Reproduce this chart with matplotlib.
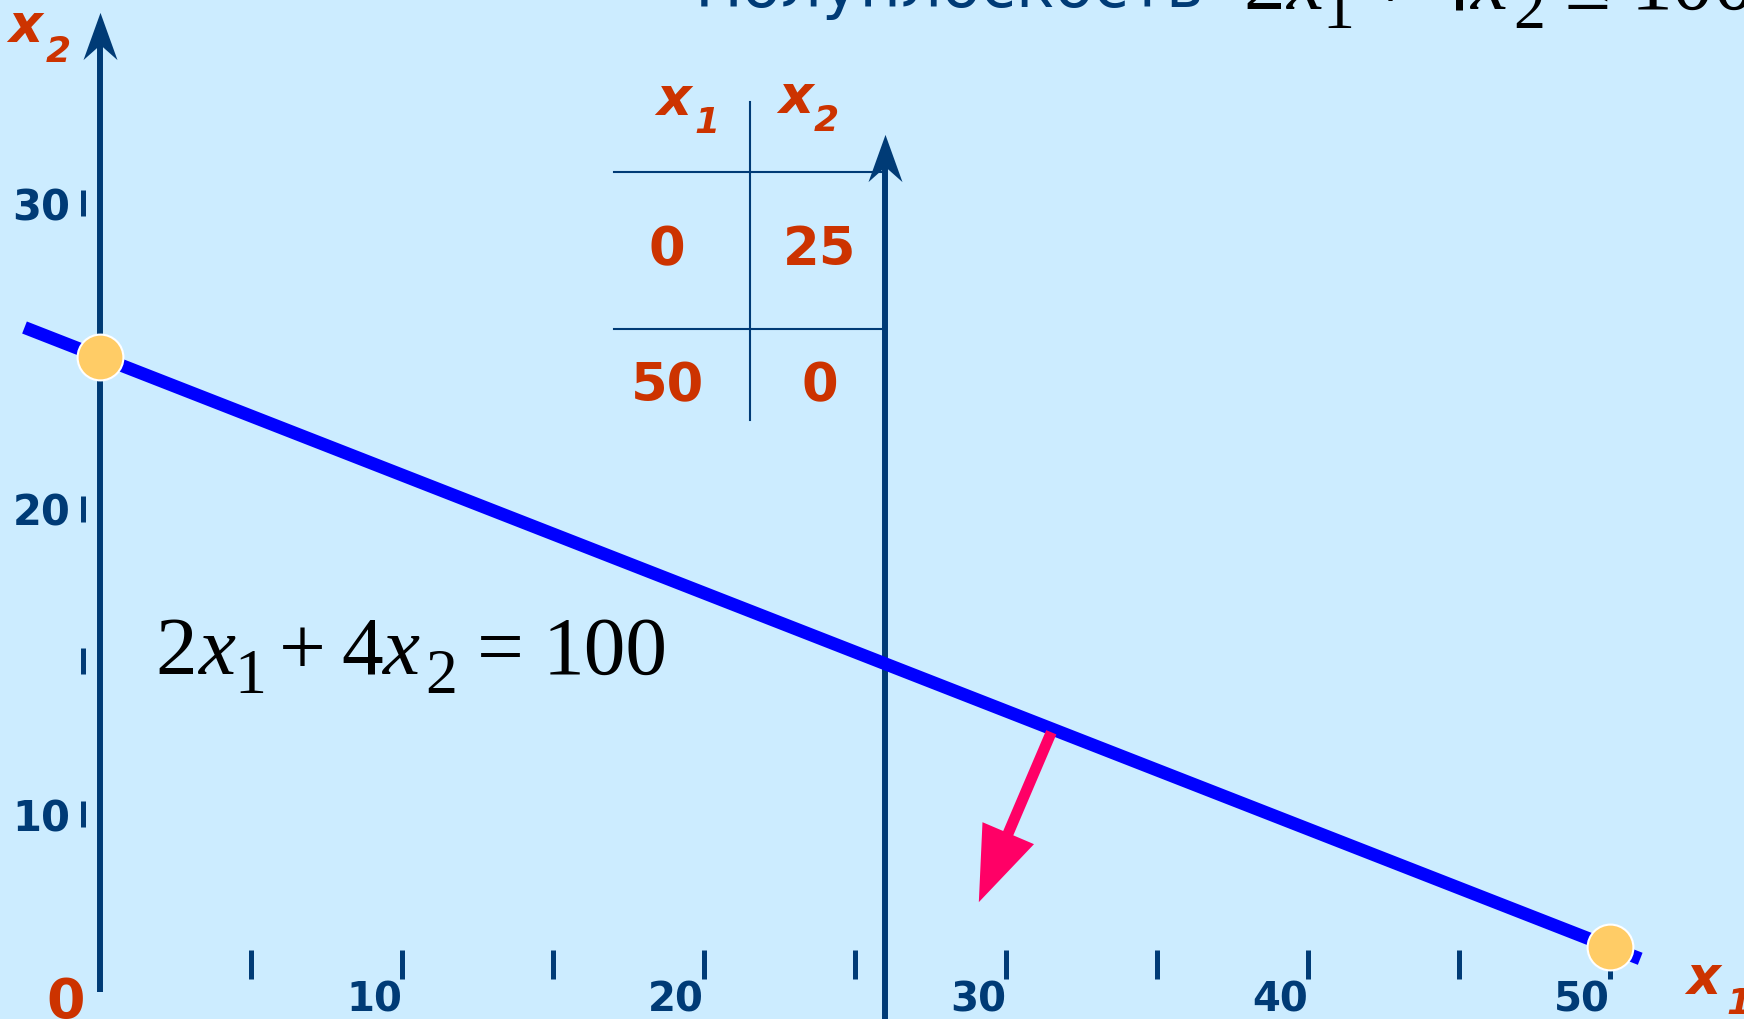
import numpy as np
import matplotlib
matplotlib.use('Agg')
import matplotlib.pyplot as plt
from matplotlib.path import Path
from matplotlib.patches import Polygon
from matplotlib import transforms

# --- data ---
line_x1 = [-2.5, 51]          # blue line 2x1 + 4x2 = 100, as drawn
line_x2 = [26.25, -0.5]
pts_x1 = [0, 50]              # intercepts (also the table)
pts_x2 = [25, 0]
x_major = [10, 20, 30, 40, 50]
x_minor = [5, 15, 25, 35, 45]
y_ticks = [10, 15, 20, 30]
y_labels = ['10', '', '20', '30']
second_axis_x1 = 26           # extra vertical axis
arrow_start = (31.5, 9.1)     # normal arrow (half-plane side)
arrow_end = (29.1, 1.9)
eq_tokens = ['2', 'x', '1', '+', '4', 'x', '2', '=', '100']
title_tokens = ['2', 'x', '1', '+', '4', 'x', '2', '≤', '100']

# --- look ---
W, H = 1744, 1020
BG = '#CCECFF'
NAVY = '#003B76'
RED = '#CC3300'
X0_PX, PX_PER_X = 100, 30.2
Y0_PX, PX_PER_Y = 948, 23.6
Y2_10_PX, Y2_30_PX = 815, 204
SERIF = ['Liberation Serif', 'DejaVu Serif']
# per token: x offset (px), baseline drop (px), size, italic
EQ_LAYOUT = [(0, 0, 60, False), (43, 0, 60, True), (79, 19, 46, False),
             (124, 0, 60, False), (186, 0, 60, False), (227, 0, 60, True),
             (270, 19, 46, False), (322, 0, 60, False), (388, 0, 60, False)]


def px(x, y):
    return x / W, 1 - y / H


def sub_label(x, y, sub, size=38, subsize=26, dx=38, dy=20):
    # italic bold x with a subscript digit, positioned in pixels (baseline)
    fig.text(*px(x, y), 'x', color=RED, fontsize=size, fontweight='bold',
             fontstyle='italic', ha='left', va='baseline')
    fig.text(*px(x + dx, y + dy), sub, color=RED, fontsize=subsize,
             fontweight='bold', fontstyle='italic', ha='left', va='baseline')


def equation(x0, y0, tokens):
    for tok, (dx, dy, size, it) in zip(tokens, EQ_LAYOUT):
        fig.text(*px(x0 + dx, y0 + dy), tok, fontsize=size, family=SERIF,
                 fontstyle='italic' if it else 'normal', color='black',
                 ha='left', va='baseline')


# arrow head with a notch, tip at (0, 1)
head = Path([(0, 1), (0.72, -1), (0, -0.36), (-0.72, -1), (0, 1)],
            [Path.MOVETO, Path.LINETO, Path.LINETO, Path.LINETO, Path.CLOSEPOLY])

fig = plt.figure(figsize=(W / 100, H / 100), dpi=100, facecolor=BG)
ax = fig.add_axes([0, 0, 1, 1])
ax.set_facecolor(BG)
ax.set_xlim(-X0_PX / PX_PER_X, (W - X0_PX) / PX_PER_X)
ax.set_ylim(-(H - Y0_PX) / PX_PER_Y, Y0_PX / PX_PER_Y)
for s in ax.spines.values():
    s.set_visible(False)

# x axis ticks (no axis line)
ax.spines['bottom'].set_position(('data', -3 / PX_PER_Y))
ax.set_xticks(x_major, labels=[str(v) for v in x_major], fontweight='bold', ha='right')
ax.set_xticks(x_minor, minor=True)
ax.tick_params(axis='x', which='both', direction='out', length=21, width=3.6,
               color=NAVY, pad=0, labelsize=29, labelcolor=NAVY)
ax.set_yticks([])

# vertical axes with arrow heads
tip_y = (Y0_PX - 13) / PX_PER_Y
ax.plot([0, 0], [-45 / PX_PER_Y, tip_y - 1], color=NAVY, lw=4.3, solid_capstyle='butt')
tip2_y = (Y0_PX - 135) / PX_PER_Y
ax.plot([second_axis_x1] * 2, [-5, tip2_y - 1], color=NAVY, lw=4.3, solid_capstyle='butt')
for hx, hy in [(0, tip_y), (second_axis_x1, tip2_y)]:
    tr = transforms.offset_copy(ax.transData, fig=fig, x=0, y=-23.5, units='dots')
    ax.plot([hx], [hy], marker=head, ms=34, color=NAVY, mec=NAVY, mew=0,
            transform=tr, clip_on=False)

# the line and its intercept points
ax.plot(line_x1, line_x2, color='#0000FF', lw=9.3, solid_capstyle='butt', zorder=4)
ax.plot(pts_x1, pts_x2, ls='none', marker='o', ms=33, mfc='#FFCC66', mec='white',
        mew=1.5, zorder=6)

# normal arrow, built in pixels so the head keeps its shape
p0 = ax.transData.transform(arrow_start)
p1 = ax.transData.transform(arrow_end)
d = (p1 - p0) / np.hypot(*(p1 - p0))
n = np.array([-d[1], d[0]])
base = p1 - d * 75
shaft = [p0 + n * 5.5, base + n * 5.5 + d * 2, base - n * 5.5 + d * 2, p0 - n * 5.5]
tri = [p1, base + n * 28, base - n * 28]
for verts in (shaft, tri):
    fig.add_artist(Polygon(verts, closed=True, fc='#FF0066', ec='none',
                           transform=transforms.IdentityTransform(), zorder=5))

# y axis ticks on their own scale
ax2 = ax.twinx()
u = (Y2_10_PX - Y2_30_PX) / 20
y2_zero = Y2_10_PX + 10 * u
ax2.set_ylim((y2_zero - H) / u, y2_zero / u)
for s in ax2.spines.values():
    s.set_visible(False)
dash_x = (83 - X0_PX) / PX_PER_X
ax2.yaxis.set_ticks_position('left')
ax2.spines['left'].set_position(('data', dash_x))
ax2.set_yticks(y_ticks, labels=y_labels, fontweight='bold')
ax2.tick_params(axis='y', length=0, pad=9, labelsize=30, labelcolor=NAVY)
ax2.plot([dash_x] * len(y_ticks), y_ticks, ls='none', marker='|', ms=19, mew=3.6,
         color=NAVY)

# origin
fig.text(*px(66, 1018), '0', color=RED, fontsize=40, fontweight='bold',
         ha='center', va='baseline')

# axis names
sub_label(8, 42, '2', dx=38, dy=20)
sub_label(1686, 994, '1', dx=40, dy=20)

# table of intercepts
for ty in [173, 330]:
    fig.add_artist(plt.Line2D([614 / W, 884 / W], [1 - ty / H] * 2, color=NAVY, lw=1.5))
fig.add_artist(plt.Line2D([750 / W] * 2, [1 - 103 / H, 1 - 421 / H], color=NAVY, lw=1.5))
sub_label(656, 115, '1', size=39, subsize=26, dx=38, dy=18)
sub_label(778, 113, '2', size=39, subsize=26, dx=36, dy=18)
for row, cy in enumerate([250, 386]):
    fig.text(*px(667, cy), str(pts_x1[row]), color=RED, fontsize=38, fontweight='bold',
             ha='center', va='center')
    fig.text(*px(820, cy), str(pts_x2[row]), color=RED, fontsize=38, fontweight='bold',
             ha='center', va='center')

# equation and (cut off) title
equation(155, 674, eq_tokens)
fig.text(*px(695, 7), 'Полуплоскость', fontsize=46, color=NAVY,
         ha='left', va='baseline')
equation(1243, 9, title_tokens)

fig.savefig('out.png', dpi=100, facecolor=BG)
